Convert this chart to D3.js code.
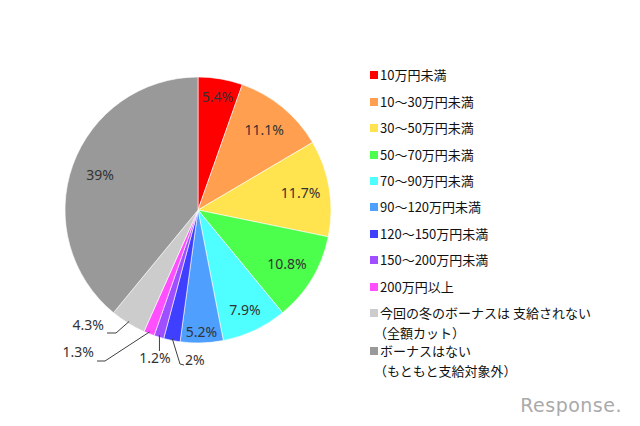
<!DOCTYPE html>
<html>
<head>
<meta charset="utf-8">
<script src="https://cdn.jsdelivr.net/npm/d3@7"></script>
<style>
  body { margin: 0; background: #fff; }
</style>
</head>
<body>
<script>
const categories = ['10万円未満', '10～30万円未満', '30～50万円未満', '50～70万円未満', '70～90万円未満',
                    '90～120万円未満', '120～150万円未満', '150～200万円未満', '200万円以上',
                    '今回の冬のボーナスは 支給されない|（全額カット）', 'ボーナスはない|（もともと支給対象外）'];
const values = [5.4, 11.1, 11.7, 10.8, 7.9, 5.2, 2, 1.2, 1.3, 4.3, 39];
const valueLabels = ['5.4%', '11.1%', '11.7%', '10.8%', '7.9%', '5.2%', '2%', '1.2%', '1.3%', '4.3%', '39%'];
const colors = ['#ff0000', '#ff9f4f', '#ffe34f', '#4cff4c', '#4fffff', '#4f9fff', '#3f3fff', '#9f4fff', '#ff4fff', '#cccccc', '#999999'];

const svg = d3.select('body').append('svg')
              .attr('width', 640)
              .attr('height', 426);

const cx = 198, cy = 210, r = 133;

const pie = d3.pie().sort(null).value(d => d);
const arcs = pie(values);
const arc = d3.arc().innerRadius(0).outerRadius(r);

const g = svg.append('g').attr('transform', `translate(${cx},${cy})`);

g.selectAll('path.slice')
 .data(arcs)
 .enter().append('path')
 .attr('class', 'slice')
 .attr('d', arc)
 .style('fill', (d, i) => colors[i])
 .style('stroke', '#fff')
 .style('stroke-width', 0.6);

// inside labels (Excel-ish best fit radius per slice)
const insideRadius = [115, 104, 104, 104, 110, 122, null, null, null, null, 104];
arcs.forEach((d, i) => {
  if (insideRadius[i] == null) return;
  const a = (d.startAngle + d.endAngle) / 2;
  const lr = insideRadius[i];
  g.append('text')
   .attr('x', lr * Math.sin(a))
   .attr('y', -lr * Math.cos(a))
   .attr('dy', '0.36em')
   .attr('text-anchor', 'middle')
   .style('font-family', '"Noto Sans", sans-serif')
   .style('font-size', '14px')
   .style('fill', '#333')
   .text(valueLabels[i]);
});

// outside labels with leader lines: [index, text x, text y, anchor, elbow dx, elbow dy]
const outside = [
  [6, 185, 365, 'start', -5, -1],
  [7, 155, 363, 'middle', 0, -12],
  [8, 94, 357, 'end', 11, 4],
  [9, 104, 330, 'end', 12, 3]
];
outside.forEach(o => {
  const d = arcs[o[0]];
  const a = (d.startAngle + d.endAngle) / 2;
  const px = cx + (r - 2) * Math.sin(a), py = cy - (r - 2) * Math.cos(a);
  const tx = o[1], ty = o[2];
  let pts;
  if (o[3] === 'end') {
    pts = [[px, py], [tx + o[4], ty + o[5]], [tx + 3, ty + o[5]]];
  } else if (o[3] === 'middle') {
    pts = [[px, py], [px, ty + o[5]]];
  } else {
    pts = [[px, py], [tx + o[4], ty + o[5]], [tx - 1, ty + o[5] + 1]];
  }
  svg.append('path')
     .attr('d', d3.line()(pts))
     .style('fill', 'none')
     .style('stroke', '#404040')
     .style('stroke-width', 1);
  svg.append('text')
     .attr('x', tx)
     .attr('y', ty)
     .attr('text-anchor', o[3])
     .style('font-family', '"Noto Sans", sans-serif')
     .style('font-size', '14px')
     .style('fill', '#333')
     .text(valueLabels[o[0]]);
});

// legend
const legendY = [75, 102, 128, 155, 181, 207, 234, 260, 287, 313, 351];
const legend = svg.append('g');
categories.forEach((c, i) => {
  const row = legend.append('g').attr('transform', `translate(370,${legendY[i]})`);
  row.append('rect')
     .attr('x', 0).attr('y', -4).attr('width', 8).attr('height', 8)
     .style('fill', colors[i]);
  const lines = c.split('|');
  lines.forEach((t, j) => {
    row.append('text')
       .attr('x', j === 0 ? 10 : 4)
       .attr('y', j * 20)
       .attr('dy', '0.35em')
       .style('font-family', '"Noto Sans CJK JP", sans-serif')
       .style('font-size', '13px')
       .style('fill', '#111')
       .text(t);
  });
});

// watermark
svg.append('text')
   .attr('x', 622).attr('y', 412)
   .attr('text-anchor', 'end')
   .style('font-family', '"DejaVu Sans", sans-serif')
   .style('font-size', '19px')
   .style('letter-spacing', '0.5px')
   .style('fill', '#aaa')
   .text('Response.');
</script>
</body>
</html>
